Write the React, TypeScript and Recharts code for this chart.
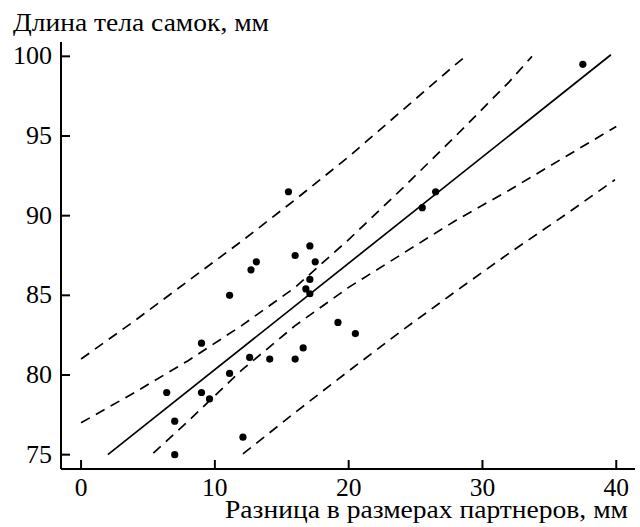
import React from 'react';
import { ScatterChart, Scatter, XAxis, YAxis } from 'recharts';

const xTicks = [0, 10, 20, 30, 40];
const yTicks = [75, 80, 85, 90, 95, 100];

const pointsX = [15.5, 17.1, 16.0, 17.5, 13.1, 12.7, 17.1, 16.8, 17.1, 11.1, 9.0, 16.6, 12.6, 14.1, 16.0, 11.1, 6.4, 9.0, 9.6, 7.0, 12.1, 7.0, 19.2, 20.5, 26.5, 25.5, 37.5];
const pointsY = [91.5, 88.1, 87.5, 87.1, 87.1, 86.6, 86.0, 85.4, 85.1, 85.0, 82.0, 81.7, 81.1, 81.0, 81.0, 80.1, 78.9, 78.9, 78.5, 77.1, 76.1, 75.0, 83.3, 82.6, 91.5, 90.5, 99.5];

const regX = [2, 39.6];
const regY = [75.0, 100.1];

const innerUpperX = [0, 4, 8, 12, 16, 20, 24, 28, 32, 33.7];
const innerUpperY = [77.0, 78.9, 80.9, 83.1, 85.5, 88.5, 91.7, 95.0, 98.4, 100.0];

const innerLowerX = [5.4, 8, 12, 16, 20, 24, 28, 32, 36, 40];
const innerLowerY = [75.1, 77.1, 80.3, 83.1, 85.5, 87.6, 89.7, 91.6, 93.6, 95.6];

const outerUpperX = [0, 4, 8, 12, 16, 20, 24, 28, 28.9];
const outerUpperY = [81.0, 83.4, 85.9, 88.4, 91.0, 93.7, 96.6, 99.5, 100.1];

const outerLowerX = [12.1, 16, 20, 24, 28, 32, 36, 39.9];
const outerLowerY = [75.05, 77.65, 80.25, 82.8, 85.25, 87.65, 89.95, 92.25];

const yTitle = 'Длина тела самок, мм';
const xTitle = 'Разница в размерах партнеров, мм';

const toPts = (xs: number[], ys: number[]) => xs.map((x, i) => ({ x, y: ys[i] }));

const FONT = '"Liberation Serif", "Times New Roman", serif';

const XTick = (props: any) => {
  const { x, y, payload } = props;
  return (
    <g>
      <line x1={x} y1={y} x2={x} y2={y - 9} stroke="#000" strokeWidth={2} />
      <text x={x} y={y + 27} textAnchor="middle" fontFamily={FONT} fontSize={25.5} fill="#000">
        {payload.value}
      </text>
    </g>
  );
};

const YTick = (props: any) => {
  const { x, y, payload } = props;
  return (
    <g>
      <line x1={x} y1={y} x2={x + 9} y2={y} stroke="#000" strokeWidth={2} />
      <text x={x - 9} y={y + 8} textAnchor="end" fontFamily={FONT} fontSize={26} fill="#000">
        {payload.value}
      </text>
    </g>
  );
};

const NoShape = () => <g />;

const lineStyle = { stroke: '#000', strokeWidth: 1.7, strokeDasharray: '10 7' };

export default function App() {
  return (
    <div style={{ position: 'absolute', left: 0, top: 0, width: 640, height: 527, background: '#fff' }}>
      <ScatterChart width={640} height={527} margin={{ top: 42, right: 5, bottom: 28, left: 0 }}>
        <XAxis
          type="number"
          dataKey="x"
          domain={[-1.5, 41.4]}
          ticks={xTicks}
          allowDataOverflow
          axisLine={{ stroke: '#000', strokeWidth: 2 }}
          tickLine={false}
          tickSize={0}
          tickMargin={0}
          tick={<XTick />}
          height={30}
          interval={0}
        />
        <YAxis
          type="number"
          dataKey="y"
          domain={[74.1, 100.9]}
          ticks={yTicks}
          allowDataOverflow
          axisLine={{ stroke: '#000', strokeWidth: 2 }}
          tickLine={false}
          tickSize={0}
          tickMargin={0}
          tick={<YTick />}
          width={61}
          interval={0}
        />
        <Scatter data={toPts(outerUpperX, outerUpperY)} line={lineStyle} lineType="joint" shape={NoShape} isAnimationActive={false} />
        <Scatter data={toPts(innerUpperX, innerUpperY)} line={lineStyle} lineType="joint" shape={NoShape} isAnimationActive={false} />
        <Scatter data={toPts(innerLowerX, innerLowerY)} line={lineStyle} lineType="joint" shape={NoShape} isAnimationActive={false} />
        <Scatter data={toPts(outerLowerX, outerLowerY)} line={lineStyle} lineType="joint" shape={NoShape} isAnimationActive={false} />
        <Scatter data={toPts(regX, regY)} line={{ stroke: '#000', strokeWidth: 1.7 }} lineType="joint" shape={NoShape} isAnimationActive={false} />
        <Scatter
          data={toPts(pointsX, pointsY)}
          fill="#000"
          shape={(p: any) => <circle cx={p.cx} cy={p.cy} r={3.6} fill="#000" />}
          isAnimationActive={false}
        />
      </ScatterChart>
      <svg width={640} height={527} style={{ position: 'absolute', left: 0, top: 0, pointerEvents: 'none' }}>
        <text x={13} y={31} fontFamily={FONT} fontSize={25} textLength={256} lengthAdjust="spacingAndGlyphs" fill="#000">{yTitle}</text>
        <text x={225} y={518} fontFamily={FONT} fontSize={24.5} textLength={403} lengthAdjust="spacingAndGlyphs" fill="#000">{xTitle}</text>
      </svg>
    </div>
  );
}
